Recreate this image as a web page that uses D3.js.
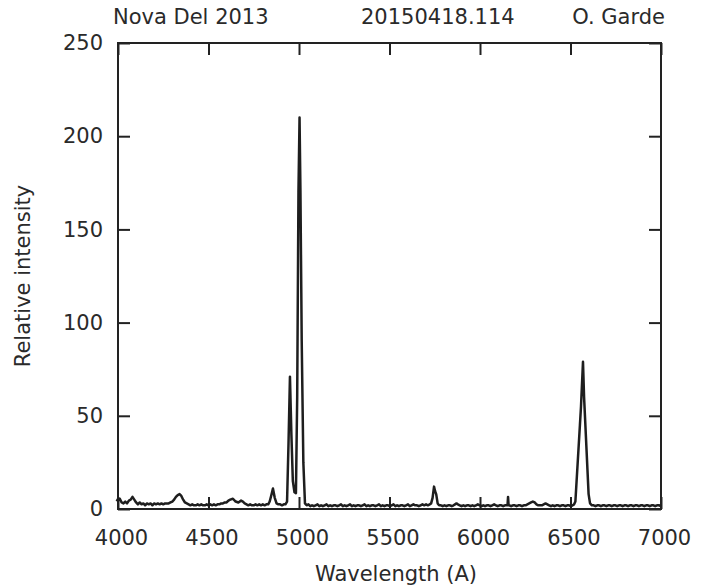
<!DOCTYPE html>
<html>
<head>
<meta charset="utf-8">
<script src="https://cdn.jsdelivr.net/npm/d3@7"></script>
<style>
  html, body { margin: 0; padding: 0; background: #fff; }
  svg { display: block; }
  text { font-family: "DejaVu Sans", Verdana, sans-serif; fill: #2a2a2a; }
</style>
</head>
<body>
<svg id="chart" width="708" height="588"></svg>
<script>
// Spectrum of Nova Del 2013, 2015-04-18 (wavelength in Angstrom, relative intensity)
const wavelengths = [
  3990, 4000, 4010, 4020, 4030, 4040, 4050, 4060, 4070, 4080, 4090, 4100, 4110, 4120, 4130, 4140,
  4150, 4160, 4170, 4180, 4190, 4200, 4210, 4220, 4230, 4240, 4250, 4260, 4270, 4280, 4290, 4300,
  4310, 4320, 4330, 4340, 4350, 4360, 4370, 4380, 4390, 4400, 4410, 4420, 4430, 4440, 4450, 4460,
  4470, 4480, 4490, 4500, 4510, 4520, 4530, 4540, 4550, 4560, 4570, 4580, 4590, 4600, 4610, 4620,
  4635, 4650, 4665, 4680, 4690, 4700, 4710, 4720, 4730, 4740, 4750, 4760, 4770, 4780, 4790, 4800,
  4810, 4820, 4830, 4838, 4846, 4856, 4866, 4876, 4886, 4896, 4906, 4916, 4925, 4934, 4942, 4950,
  4958, 4966, 4975, 4983, 4990, 4997, 5003, 5008, 5015, 5024, 5033, 5042, 5052, 5062, 5072, 5082,
  5092, 5102, 5112, 5122, 5132, 5142, 5152, 5162, 5172, 5182, 5192, 5202, 5212, 5222, 5232, 5242,
  5252, 5262, 5272, 5282, 5292, 5302, 5312, 5322, 5332, 5342, 5352, 5362, 5372, 5382, 5392, 5402,
  5412, 5422, 5432, 5442, 5452, 5462, 5472, 5482, 5492, 5502, 5512, 5522, 5532, 5542, 5552, 5562,
  5572, 5582, 5592, 5602, 5612, 5622, 5632, 5642, 5652, 5662, 5672, 5682, 5692, 5702, 5712, 5722,
  5730, 5738, 5746, 5752, 5758, 5766, 5774, 5784, 5794, 5804, 5814, 5824, 5834, 5844, 5854, 5862,
  5870, 5878, 5888, 5898, 5908, 5918, 5928, 5938, 5948, 5958, 5968, 5978, 5988, 5998, 6008, 6018,
  6028, 6038, 6048, 6058, 6068, 6078, 6088, 6098, 6108, 6118, 6128, 6138, 6148, 6152, 6155, 6158,
  6162, 6172, 6182, 6192, 6202, 6212, 6222, 6232, 6242, 6252, 6262, 6272, 6282, 6292, 6302, 6312,
  6322, 6332, 6342, 6352, 6362, 6372, 6382, 6392, 6402, 6412, 6422, 6432, 6442, 6452, 6462, 6472,
  6482, 6492, 6502, 6512, 6520, 6527, 6552, 6558, 6569, 6575, 6600, 6608, 6618, 6628, 6638, 6648,
  6658, 6668, 6678, 6688, 6698, 6708, 6718, 6728, 6738, 6748, 6758, 6768, 6778, 6788, 6798, 6808,
  6818, 6828, 6838, 6848, 6858, 6868, 6878, 6888, 6898, 6908, 6918, 6928, 6938, 6948, 6958, 6968,
  6978, 6988, 7000
];
const intensity = [
  5.0, 4.5, 5.5, 3.5, 3.0, 4.0, 3.0, 4.5, 5.0, 6.5, 5.0, 3.5, 2.5, 3.5, 2.5, 3.0,
  2.0, 3.0, 2.5, 3.0, 2.0, 3.0, 2.5, 3.0, 2.5, 3.0, 2.5, 3.0, 3.0, 3.0, 3.5, 4.0,
  5.0, 6.5, 7.5, 8.0, 7.0, 5.0, 3.5, 3.0, 2.5, 2.0, 2.5, 2.0, 2.0, 2.5, 2.0, 2.5,
  2.0, 2.0, 2.5, 2.0, 2.5, 2.0, 2.5, 2.0, 2.5, 2.5, 3.0, 3.0, 3.5, 3.5, 4.5, 5.0,
  5.5, 4.0, 3.5, 4.5, 4.0, 3.0, 2.5, 2.0, 2.5, 2.0, 2.0, 2.5, 2.0, 2.5, 2.0, 2.5,
  2.0, 2.5, 2.5, 4.0, 7.0, 11.0, 6.0, 3.0, 2.5, 2.5, 2.0, 2.5, 2.5, 4.0, 35.0, 71.0,
  40.0, 15.0, 9.0, 8.5, 60.0, 170.0, 210.0, 170.0, 90.0, 25.0, 3.0, 2.0, 2.5, 1.5, 2.0, 1.5,
  2.0, 2.5, 1.5, 2.0, 1.5, 2.0, 2.5, 1.5, 2.0, 1.5, 2.0, 2.0, 1.5, 2.0, 2.5, 1.5,
  2.0, 1.5, 2.0, 2.5, 1.5, 2.0, 1.5, 2.0, 2.0, 1.5, 2.0, 2.5, 1.5, 2.0, 1.5, 2.0,
  2.0, 1.5, 2.0, 2.5, 1.5, 2.0, 1.5, 2.0, 2.0, 1.5, 2.0, 2.5, 1.5, 2.0, 1.5, 2.0,
  2.0, 1.5, 2.0, 2.5, 1.5, 2.0, 2.5, 2.0, 2.0, 1.5, 2.0, 2.5, 2.0, 2.5, 2.0, 2.5,
  3.0, 6.0, 12.0, 9.5, 8.0, 3.0, 2.0, 2.0, 1.5, 2.0, 1.5, 2.0, 2.0, 1.5, 2.0, 2.5,
  3.0, 2.5, 2.0, 1.5, 2.0, 1.5, 2.0, 2.0, 1.5, 2.0, 1.5, 2.0, 2.5, 2.0, 1.5, 2.0,
  1.5, 2.0, 2.0, 1.5, 2.0, 2.5, 2.0, 1.5, 2.0, 2.0, 1.5, 2.0, 2.0, 2.0, 6.5, 2.0,
  2.0, 1.5, 2.0, 2.0, 1.5, 2.0, 2.0, 1.5, 2.0, 2.0, 2.5, 3.0, 3.5, 4.0, 3.5, 2.5,
  2.0, 2.0, 2.0, 2.5, 3.0, 2.5, 2.0, 1.5, 2.0, 1.5, 2.0, 2.0, 1.5, 2.0, 2.0, 1.5,
  2.0, 2.0, 1.5, 2.0, 2.5, 4.0, 45.0, 55.0, 79.0, 60.0, 8.0, 3.0, 2.0, 2.0, 1.5, 2.0,
  2.0, 1.5, 2.0, 2.0, 1.5, 2.0, 2.0, 1.5, 2.0, 2.0, 1.5, 2.0, 2.0, 1.5, 2.0, 2.0,
  1.5, 2.0, 2.0, 1.5, 2.0, 2.0, 1.5, 2.0, 2.0, 1.5, 2.0, 2.0, 1.5, 2.0, 2.0, 1.5,
  2.0, 2.0, 1.5
];
const xTicks = [4000, 4500, 5000, 5500, 6000, 6500, 7000];
const yTicks = [0, 50, 100, 150, 200, 250];
const titleParts = ["Nova Del 2013", "20150418.114", "O. Garde"];
const xLabel = "Wavelength (A)";
const yLabel = "Relative intensity";

const svg = d3.select("#chart");
const plot = { left: 118, right: 661, top: 43, bottom: 509 };
const fontSize = "21px";

const x = d3.scaleLinear().domain([4000, 7000]).range([plot.left, plot.right]);
const y = d3.scaleLinear().domain([0, 250]).range([plot.bottom, plot.top]);

const tickLen = 12;
const ink = "#222";

// Inward ticks on all four sides, labels only on the left and bottom
const axes = [
  { axis: d3.axisBottom(x).tickValues(xTicks).tickSize(-tickLen).tickPadding(21).tickFormat(d3.format("d")), at: `translate(0,${plot.bottom})`, dx: 3 },
  { axis: d3.axisTop(x).tickValues(xTicks).tickSize(-tickLen).tickFormat(""), at: `translate(0,${plot.top})`, dx: 0 },
  { axis: d3.axisLeft(y).tickValues(yTicks).tickSize(-tickLen).tickPadding(15).tickFormat(d3.format("d")), at: `translate(${plot.left},0)`, dx: 0 },
  { axis: d3.axisRight(y).tickValues(yTicks).tickSize(-tickLen).tickFormat(""), at: `translate(${plot.right},0)`, dx: 0 }
];
axes.forEach(a => {
  const g = svg.append("g").attr("transform", a.at).call(a.axis);
  g.select(".domain").remove();
  g.selectAll(".tick line").attr("stroke", ink).attr("stroke-width", 2);
  g.selectAll(".tick text")
    .attr("fill", "#2a2a2a")
    .attr("dx", a.dx)
    .style("font-family", '"DejaVu Sans", Verdana, sans-serif')
    .style("font-size", fontSize);
});

// Plot frame
svg.append("rect")
  .attr("x", plot.left).attr("y", plot.top)
  .attr("width", plot.right - plot.left).attr("height", plot.bottom - plot.top)
  .attr("fill", "none").attr("stroke", ink).attr("stroke-width", 2);

// Spectrum trace
const points = wavelengths.map((w, i) => [w, intensity[i]]);
const line = d3.line().x(d => x(d[0])).y(d => y(d[1]));
svg.append("path")
  .datum(points)
  .attr("d", line)
  .attr("fill", "none")
  .attr("stroke", "#1e1e1e")
  .attr("stroke-width", 2.5)
  .attr("stroke-linejoin", "round");

// Header line
svg.append("text").attr("x", 113).attr("y", 24).style("font-size", fontSize).text(titleParts[0]);
svg.append("text").attr("x", 361).attr("y", 24).style("font-size", fontSize).text(titleParts[1]);
svg.append("text").attr("x", 665).attr("y", 24).attr("text-anchor", "end").style("font-size", fontSize).text(titleParts[2]);

// Axis titles
svg.append("text")
  .attr("x", 396).attr("y", 581)
  .attr("text-anchor", "middle").style("font-size", fontSize).text(xLabel);
svg.append("text")
  .attr("transform", `translate(30,${(plot.top + plot.bottom) / 2}) rotate(-90)`)
  .attr("text-anchor", "middle").style("font-size", fontSize).text(yLabel);
</script>
</body>
</html>
